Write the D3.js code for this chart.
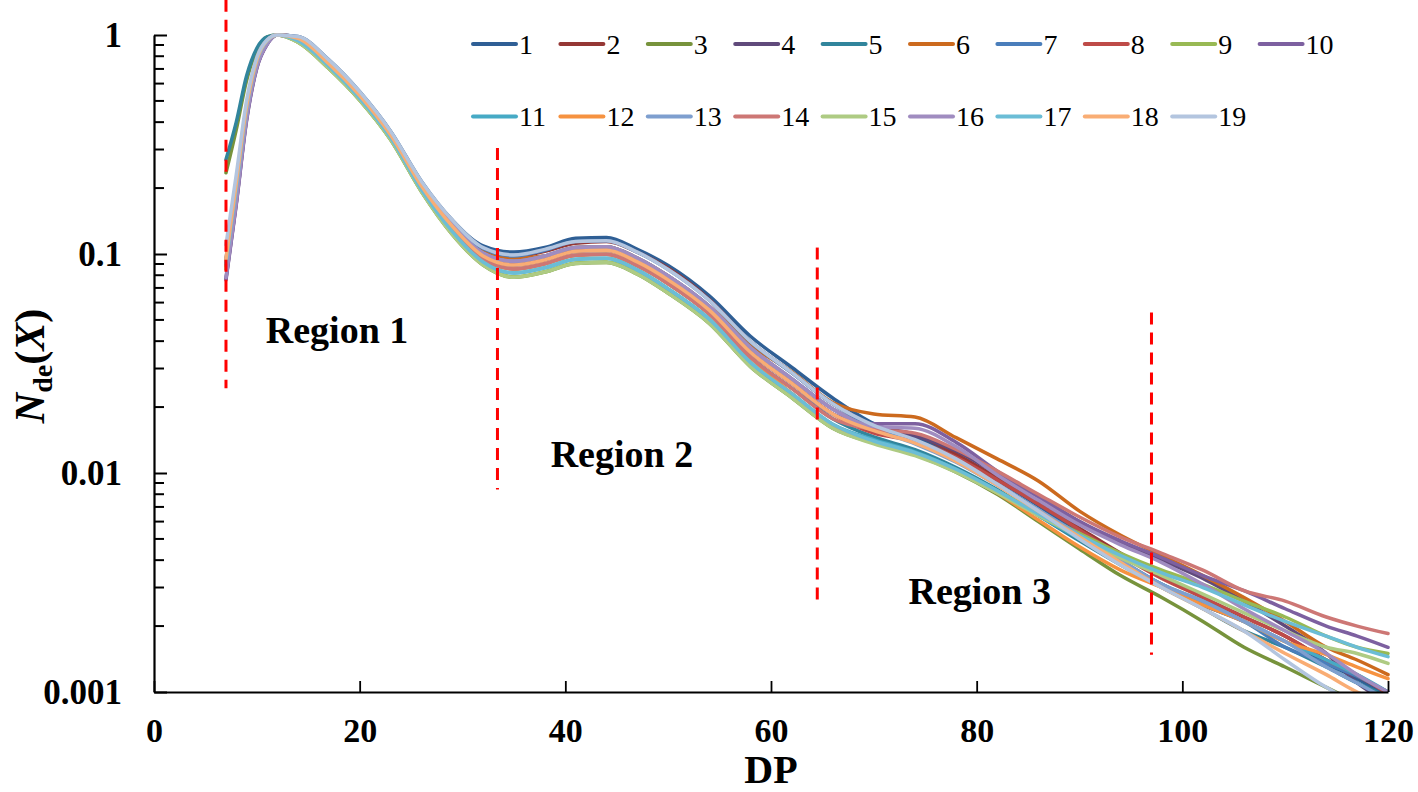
<!DOCTYPE html>
<html>
<head>
<meta charset="utf-8">
<script src="https://cdn.jsdelivr.net/npm/d3@7"></script>
<style>
  body { margin: 0; background: #fff; }
  text { font-family: "Liberation Serif", "Times New Roman", serif; }
</style>
</head>
<body>
<div id="chart"></div>
<script>
// DP values shared by all series
const dp = [7, 8, 9, 10, 11, 12, 14, 17, 20, 23, 26, 29, 32, 35, 38, 41, 44, 47, 50, 54, 58, 62, 66,
            70, 74, 78, 82, 86, 90, 94, 98, 102, 106, 110, 114, 117, 120];

const s1  = [0.09, 0.2, 0.46, 0.76, 0.94, 1.0, 0.984, 0.77, 0.551, 0.364, 0.215, 0.143, 0.109, 0.102, 0.107, 0.118, 0.119, 0.105, 0.0886, 0.0644, 0.0421, 0.0304, 0.022, 0.0168, 0.0146, 0.0119, 0.0093, 0.0071, 0.0053, 0.004, 0.0031, 0.0025, 0.0021, 0.0017, 0.00135, 0.00115, 0.00095];
const s2  = [0.088, 0.195, 0.45, 0.75, 0.935, 1.0, 0.975, 0.758, 0.543, 0.359, 0.211, 0.139, 0.105, 0.097, 0.103, 0.112, 0.114, 0.102, 0.086, 0.062, 0.0398, 0.0288, 0.0207, 0.0165, 0.015, 0.0122, 0.0095, 0.0073, 0.0056, 0.0043, 0.0034, 0.0027, 0.0022, 0.0018, 0.0014, 0.00118, 0.001];
const s3  = [0.235, 0.37, 0.62, 0.85, 0.98, 1.0, 0.926, 0.703, 0.504, 0.333, 0.193, 0.123, 0.0891, 0.0783, 0.0827, 0.0905, 0.0914, 0.0809, 0.0662, 0.0482, 0.0306, 0.0221, 0.016, 0.0137, 0.0121, 0.0101, 0.008, 0.006, 0.0045, 0.0034, 0.0027, 0.0021, 0.0016, 0.0013, 0.00105, 0.0009, 0.0008];
const s4  = [0.077, 0.17, 0.41, 0.71, 0.91, 1.0, 0.97, 0.747, 0.535, 0.354, 0.207, 0.136, 0.101, 0.0927, 0.0979, 0.107, 0.108, 0.0958, 0.0793, 0.0577, 0.0374, 0.027, 0.0196, 0.0162, 0.0148, 0.0126, 0.0099, 0.0078, 0.006, 0.0048, 0.004, 0.0033, 0.0026, 0.002, 0.0015, 0.0011, 0.0009];
const s5  = [0.27, 0.4, 0.65, 0.87, 0.98, 1.0, 0.955, 0.729, 0.522, 0.345, 0.201, 0.131, 0.095, 0.0855, 0.0903, 0.0988, 0.0998, 0.0884, 0.0732, 0.0532, 0.0338, 0.0244, 0.0177, 0.0146, 0.0128, 0.0106, 0.0084, 0.0064, 0.0049, 0.0038, 0.003, 0.0024, 0.0019, 0.0016, 0.0013, 0.0011, 0.00095];
const s6  = [0.094, 0.21, 0.47, 0.77, 0.94, 1.0, 0.97, 0.747, 0.535, 0.354, 0.209, 0.139, 0.105, 0.096, 0.0979, 0.107, 0.108, 0.0958, 0.0793, 0.0577, 0.0385, 0.029, 0.021, 0.0186, 0.018, 0.0145, 0.0116, 0.0092, 0.0067, 0.0052, 0.0042, 0.0034, 0.0027, 0.0021, 0.0016, 0.0014, 0.0012];
const s7  = [0.092, 0.205, 0.46, 0.76, 0.94, 1.0, 0.978, 0.76, 0.546, 0.361, 0.212, 0.14, 0.106, 0.098, 0.104, 0.114, 0.115, 0.102, 0.085, 0.0615, 0.0398, 0.0287, 0.0207, 0.0163, 0.0138, 0.0114, 0.0089, 0.0068, 0.0052, 0.0039, 0.0031, 0.0025, 0.0021, 0.0016, 0.00135, 0.00118, 0.001];
const s8  = [0.09, 0.2, 0.455, 0.755, 0.935, 1.0, 0.965, 0.74, 0.53, 0.35, 0.205, 0.134, 0.098, 0.0891, 0.094, 0.103, 0.104, 0.092, 0.0762, 0.0554, 0.0356, 0.0257, 0.0186, 0.0152, 0.014, 0.0118, 0.0093, 0.0072, 0.0055, 0.0042, 0.0033, 0.0027, 0.0022, 0.0018, 0.0014, 0.0012, 0.00098];
const s9  = [0.085, 0.19, 0.44, 0.74, 0.93, 1.0, 0.93, 0.705, 0.505, 0.334, 0.194, 0.124, 0.0895, 0.0786, 0.083, 0.091, 0.092, 0.0812, 0.0665, 0.0485, 0.0308, 0.0222, 0.0161, 0.0138, 0.0122, 0.0103, 0.0083, 0.0066, 0.0053, 0.0043, 0.0036, 0.0031, 0.0026, 0.0022, 0.0018, 0.0016, 0.0015];
const s10 = [0.076, 0.168, 0.405, 0.705, 0.905, 1.0, 0.965, 0.74, 0.53, 0.35, 0.205, 0.134, 0.098, 0.0891, 0.094, 0.103, 0.104, 0.092, 0.0762, 0.0554, 0.0356, 0.0257, 0.0186, 0.0168, 0.0168, 0.0138, 0.0102, 0.0078, 0.006, 0.0049, 0.0041, 0.0034, 0.0029, 0.0024, 0.002, 0.0018, 0.0016];
const s11 = [0.09, 0.2, 0.46, 0.76, 0.94, 1.0, 0.941, 0.718, 0.514, 0.34, 0.197, 0.127, 0.092, 0.0819, 0.0865, 0.0946, 0.0956, 0.0846, 0.0693, 0.0504, 0.032, 0.0231, 0.0167, 0.0142, 0.0125, 0.0104, 0.0083, 0.0064, 0.005, 0.0039, 0.0031, 0.0026, 0.0021, 0.0017, 0.0014, 0.0012, 0.001];
const s12 = [0.093, 0.205, 0.465, 0.765, 0.94, 1.0, 0.955, 0.729, 0.522, 0.345, 0.201, 0.131, 0.095, 0.0855, 0.0903, 0.0988, 0.0998, 0.0884, 0.0732, 0.0532, 0.0338, 0.0231, 0.0165, 0.0138, 0.0122, 0.0102, 0.0081, 0.0061, 0.0046, 0.0036, 0.003, 0.0025, 0.0021, 0.0017, 0.00148, 0.0013, 0.00115];
const s13 = [0.095, 0.21, 0.47, 0.77, 0.945, 1.0, 0.97, 0.747, 0.535, 0.354, 0.207, 0.136, 0.101, 0.0927, 0.0979, 0.107, 0.108, 0.0958, 0.0793, 0.0577, 0.0374, 0.027, 0.0196, 0.0158, 0.0136, 0.0112, 0.0088, 0.0068, 0.0052, 0.004, 0.0031, 0.0026, 0.0021, 0.0017, 0.0013, 0.0011, 0.00092];
const s14 = [0.088, 0.195, 0.45, 0.75, 0.935, 1.0, 0.955, 0.729, 0.522, 0.345, 0.201, 0.131, 0.095, 0.0855, 0.0903, 0.0988, 0.0998, 0.0884, 0.0732, 0.0532, 0.0338, 0.0244, 0.0177, 0.0158, 0.0152, 0.0128, 0.0102, 0.008, 0.0063, 0.0051, 0.0043, 0.0036, 0.0029, 0.0026, 0.0022, 0.002, 0.00185];
const s15 = [0.086, 0.19, 0.44, 0.745, 0.93, 1.0, 0.926, 0.703, 0.504, 0.333, 0.193, 0.123, 0.0891, 0.0783, 0.0827, 0.0905, 0.0914, 0.0809, 0.0662, 0.0482, 0.0306, 0.0221, 0.016, 0.0136, 0.012, 0.0101, 0.0081, 0.0064, 0.0051, 0.0041, 0.0034, 0.0028, 0.0023, 0.0019, 0.0016, 0.0015, 0.00135];
const s16 = [0.078, 0.172, 0.415, 0.715, 0.91, 1.0, 0.97, 0.747, 0.535, 0.354, 0.207, 0.136, 0.101, 0.0927, 0.0979, 0.107, 0.108, 0.0958, 0.0793, 0.0577, 0.0374, 0.027, 0.0196, 0.0163, 0.016, 0.0132, 0.0098, 0.0075, 0.0058, 0.0047, 0.0039, 0.0031, 0.0024, 0.0019, 0.0015, 0.0012, 0.001];
const s17 = [0.091, 0.2, 0.46, 0.76, 0.94, 1.0, 0.941, 0.718, 0.514, 0.34, 0.197, 0.127, 0.092, 0.0819, 0.0865, 0.0946, 0.0956, 0.0846, 0.0693, 0.0504, 0.032, 0.0231, 0.0167, 0.014, 0.0124, 0.0104, 0.0083, 0.0065, 0.0052, 0.0042, 0.0035, 0.003, 0.0025, 0.0021, 0.0018, 0.0016, 0.00145];
const s18 = [0.095, 0.21, 0.47, 0.77, 0.945, 1.0, 0.965, 0.74, 0.53, 0.35, 0.205, 0.134, 0.098, 0.0891, 0.094, 0.103, 0.104, 0.092, 0.0762, 0.0554, 0.0356, 0.0257, 0.0186, 0.0156, 0.0137, 0.0113, 0.0088, 0.0067, 0.0051, 0.0039, 0.003, 0.0024, 0.0019, 0.0015, 0.0012, 0.001, 0.00088];
const s19 = [0.11, 0.23, 0.5, 0.79, 0.95, 1.0, 0.984, 0.77, 0.551, 0.364, 0.215, 0.143, 0.107, 0.099, 0.105, 0.114, 0.115, 0.102, 0.085, 0.0615, 0.0399, 0.0288, 0.0207, 0.0165, 0.0142, 0.0116, 0.0089, 0.0067, 0.005, 0.0038, 0.003, 0.0024, 0.0019, 0.0014, 0.00105, 0.00088, 0.00075];

const seriesNames = ["1","2","3","4","5","6","7","8","9","10","11","12","13","14","15","16","17","18","19"];
const seriesValues = [s1, s2, s3, s4, s5, s6, s7, s8, s9, s10, s11, s12, s13, s14, s15, s16, s17, s18, s19];
const colors = ["#2f5f95", "#953735", "#77933c", "#604a7b", "#31859c", "#cc6a1e",
                "#4a7ebb", "#be4b48", "#98b954", "#7d60a0", "#46aac5", "#f69240",
                "#7e9fcf", "#cd7775", "#aecb83", "#a08cc0", "#6bbdd6", "#f9ad74", "#b3c5df"];

// region boundaries (red dashed) and labels
const boundaryDP = [7, 33.4, 64.5, 97];
const boundaryTop = [1.45, 0.305, 0.107, 0.054];
const boundaryBottom = [0.0244, 0.0084, 0.0025, 0.00148];
const regionLabels = ["Region 1", "Region 2", "Region 3"];
const regionDP = [17.8, 45.5, 80.3];
const regionY = [0.045, 0.0123, 0.0029];

const xTicks = [0, 20, 40, 60, 80, 100, 120];
const yTicks = [1, 0.1, 0.01, 0.001];
const yTickLabels = ["1", "0.1", "0.01", "0.001"];

const W = 1418, H = 792;
const margin = {left: 154, right: 1388, top: 35, bottom: 692};
const serif = "Liberation Serif, Times New Roman, serif";

const svg = d3.select("#chart").append("svg")
    .attr("width", W)
    .attr("height", H);

const x = d3.scaleLinear().domain([0, 120]).range([margin.left, margin.right]);
const y = d3.scaleLog().domain([0.001, 1]).range([margin.bottom, margin.top]);

svg.append("clipPath").attr("id", "plot")
    .append("rect")
    .attr("x", margin.left).attr("y", 20)
    .attr("width", margin.right - margin.left + 2).attr("height", margin.bottom - 20);

// series lines
const line = d3.line()
    .x(d => x(d[0]))
    .y(d => y(d[1]))
    .curve(d3.curveMonotoneX);

svg.append("g").attr("clip-path", "url(#plot)")
    .selectAll("path")
    .data(seriesValues)
    .enter()
    .append("path")
    .attr("d", vals => line(vals.map((v, i) => [dp[i], v])))
    .attr("fill", "none")
    .attr("stroke", (d, i) => colors[i])
    .attr("stroke-width", 3.5)
    .attr("stroke-linejoin", "round")
    .attr("stroke-linecap", "round");

// red dashed boundaries
svg.append("g")
    .selectAll("line")
    .data(boundaryDP)
    .enter()
    .append("line")
    .attr("x1", d => x(d)).attr("x2", d => x(d))
    .attr("y1", (d, i) => y(boundaryTop[i]))
    .attr("y2", (d, i) => y(boundaryBottom[i]))
    .attr("stroke", "#ff0000")
    .attr("stroke-width", 3)
    .attr("stroke-dasharray", "12,8");

svg.append("g")
    .selectAll("text")
    .data(regionLabels)
    .enter()
    .append("text")
    .attr("x", (d, i) => x(regionDP[i]))
    .attr("y", (d, i) => y(regionY[i]))
    .attr("dy", "0.35em")
    .attr("text-anchor", "middle")
    .attr("font-family", serif)
    .attr("font-size", 38)
    .attr("font-weight", "bold")
    .text(d => d);

// x axis
const xAxis = svg.append("g")
    .attr("transform", `translate(0,${margin.bottom})`)
    .call(d3.axisBottom(x).tickValues(xTicks).tickSizeInner(-11).tickSizeOuter(0).tickFormat(d3.format("d")));
xAxis.select(".domain").attr("stroke-width", 2.2);
xAxis.selectAll(".tick line").attr("stroke-width", 1.8);
xAxis.selectAll(".tick text")
    .attr("y", 38)
    .attr("dy", "0.35em")
    .attr("font-size", 34)
    .attr("font-weight", "bold")
    .attr("font-family", serif)
    .attr("fill", "#000");

// y axis with minor ticks
const minor = [];
[0.001, 0.01, 0.1].forEach(dec => { for (let k = 2; k <= 9; k++) minor.push(dec * k); });
const yAxis = svg.append("g")
    .attr("transform", `translate(${margin.left},0)`)
    .call(d3.axisLeft(y).tickValues(yTicks).tickSizeInner(-13).tickSizeOuter(0)
        .tickFormat((d, i) => yTickLabels[i]));
yAxis.select(".domain").attr("stroke-width", 2.2);
yAxis.selectAll(".tick line").attr("stroke-width", 2);
yAxis.selectAll(".tick text")
    .attr("x", -32)
    .attr("font-size", 35)
    .attr("font-weight", "bold")
    .attr("font-family", serif)
    .attr("fill", "#000");
yAxis.selectAll(".minor")
    .data(minor)
    .enter()
    .append("line")
    .attr("class", "minor")
    .attr("x1", 0).attr("x2", 10)
    .attr("y1", d => y(d)).attr("y2", d => y(d))
    .attr("stroke", "#000")
    .attr("stroke-width", 2);

// axis titles
svg.append("text")
    .attr("x", (margin.left + margin.right) / 2)
    .attr("y", 783)
    .attr("text-anchor", "middle")
    .attr("font-family", serif)
    .attr("font-size", 40)
    .attr("font-weight", "bold")
    .text("DP");

const yt = svg.append("text")
    .attr("transform", "translate(44,366) rotate(-90)")
    .attr("text-anchor", "middle")
    .attr("font-family", serif)
    .attr("font-size", 42)
    .attr("font-weight", "bold");
yt.append("tspan").attr("font-style", "italic").text("N");
yt.append("tspan").attr("font-size", 28).attr("dy", 8).text("de");
yt.append("tspan").attr("dy", -8).text("(");
yt.append("tspan").attr("font-style", "italic").text("X");
yt.append("tspan").text(")");

// legend, two rows
const legend = svg.append("g");
const item = legend.selectAll("g")
    .data(seriesNames)
    .enter()
    .append("g")
    .attr("transform", (d, i) => `translate(${473 + (i % 10) * 87.4},${i < 10 ? 44 : 116.5})`);
item.append("line")
    .attr("x1", 0).attr("x2", 43)
    .attr("stroke", (d, i) => colors[i])
    .attr("stroke-width", 4)
    .attr("stroke-linecap", "round");
item.append("text")
    .attr("x", 46)
    .attr("dy", "0.35em")
    .attr("font-family", serif)
    .attr("font-size", 28)
    .text(d => d);
</script>
</body>
</html>
